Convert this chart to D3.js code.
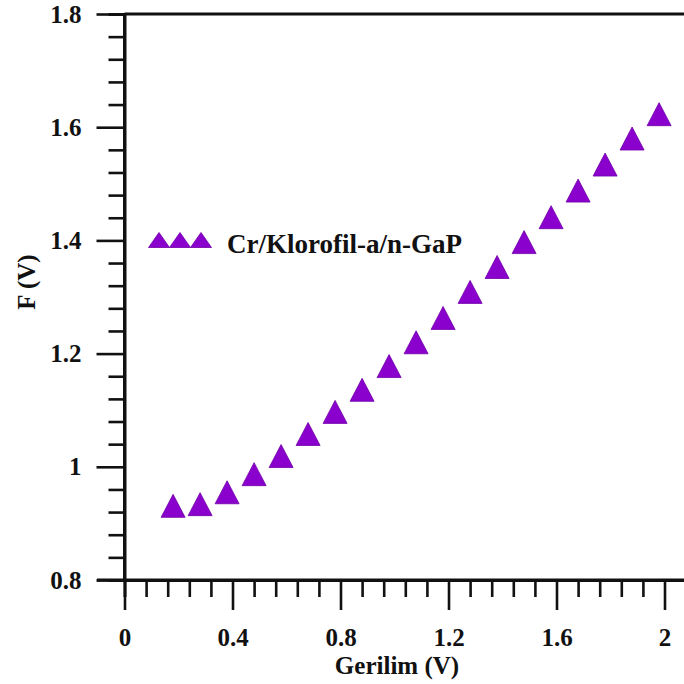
<!DOCTYPE html>
<meta charset="utf-8">
<head>
<style>
  body { margin: 0; background: #fff; }
</style>
</head>
<script src="https://d3js.org/d3.v7.min.js"></script>
<body>
<div id="my_dataviz"></div>
<script>
// data
var voltage = [0.18, 0.28, 0.38, 0.48, 0.58, 0.68, 0.78, 0.88, 0.98, 1.08,
               1.18, 1.28, 1.38, 1.48, 1.58, 1.68, 1.78, 1.88, 1.98];
var fValues = [0.931, 0.934, 0.955, 0.987, 1.019, 1.058, 1.097, 1.136, 1.178, 1.220,
               1.263, 1.309, 1.353, 1.397, 1.441, 1.488, 1.534, 1.580, 1.623];
var xMajorTicks = [0, 0.4, 0.8, 1.2, 1.6, 2];
var xTickLabels = ["0", "0.4", "0.8", "1.2", "1.6", "2"];
var yMajorTicks = [0.8, 1.0, 1.2, 1.4, 1.6, 1.8];
var yTickLabels = ["0.8", "1", "1.2", "1.4", "1.6", "1.8"];
var seriesName = "Cr/Klorofil-a/n-GaP";
var xTitle = "Gerilim (V)";
var yTitle = "F (V)";

var W = 684, H = 684;
var purple = "#8a00cc", purpleEdge = "#7000a8";
var serifFont = "'Liberation Serif', 'Times New Roman', 'DejaVu Serif', serif";

var svg = d3.select("#my_dataviz").append("svg")
    .attr("width", W).attr("height", H);
svg.append("rect").attr("width", W).attr("height", H).attr("fill", "#fff");

// scales
var x = d3.scaleLinear().domain([0, 2.08]).range([124.5, 124.5 + 2.08 * 270]);
var y = d3.scaleLinear().domain([0.8, 1.8]).range([580, 14]);

// minor ticks
var xMinor = d3.range(0, 27).filter(function(i){ return i % 5 != 0; }).map(function(i){ return i * 0.08; });
var yMinor = d3.range(0, 26).filter(function(i){ return i % 5 != 0; }).map(function(i){ return 0.8 + i * 0.04; });

function styleAxis(g) {
  g.attr("font-family", serifFont).attr("font-size", 25).attr("font-weight", "bold");
  g.select(".domain").attr("stroke", "#111").attr("stroke-width", 3);
  g.selectAll(".tick line").attr("stroke", "#111").attr("stroke-width", 2.6);
  g.selectAll(".tick text").attr("fill", "#111");
}

// x axis
var gxMinor = svg.append("g").attr("transform", "translate(0," + y(0.8) + ")")
    .call(d3.axisBottom(x).tickValues(xMinor).tickSize(17).tickFormat(""));
styleAxis(gxMinor);
var gx = svg.append("g").attr("transform", "translate(0," + y(0.8) + ")")
    .call(d3.axisBottom(x).tickValues(xMajorTicks).tickSize(30).tickPadding(18)
      .tickFormat(function(d, i){ return xTickLabels[i]; }));
styleAxis(gx);
gx.select(".domain").attr("d", "M97,0H" + W);

// y axis
var gyMinor = svg.append("g").attr("transform", "translate(" + x(0) + ",0)")
    .call(d3.axisLeft(y).tickValues(yMinor).tickSize(16).tickFormat(""));
styleAxis(gyMinor);
var gy = svg.append("g").attr("transform", "translate(" + x(0) + ",0)")
    .call(d3.axisLeft(y).tickValues(yMajorTicks).tickSize(28).tickPadding(15)
      .tickFormat(function(d, i){ return yTickLabels[i]; }));
styleAxis(gy);
gy.select(".domain").attr("d", "M0," + y(0.8) + "V" + y(1.8));

// top frame line
svg.append("line")
    .attr("x1", x(0)).attr("x2", W)
    .attr("y1", y(1.8)).attr("y2", y(1.8))
    .attr("stroke", "#111").attr("stroke-width", 3);

// points
var tri = "M0,-11.5L12,11.5L-12,11.5Z";
svg.append("g").selectAll("path")
  .data(voltage)
  .enter().append("path")
    .attr("d", tri)
    .attr("transform", function(d, i){ return "translate(" + x(d) + "," + y(fValues[i]) + ")"; })
    .attr("fill", purple)
    .attr("stroke", purpleEdge)
    .attr("stroke-width", 0.8);

// legend
var leg = svg.append("g").attr("transform", "translate(159,240)");
[0, 21, 42].forEach(function(dx){
  leg.append("path")
    .attr("d", "M0,-7.5L10.5,7.5L-10.5,7.5Z")
    .attr("transform", "translate(" + dx + ",0)")
    .attr("fill", purple).attr("stroke", purpleEdge).attr("stroke-width", 0.8);
});
svg.append("text")
    .attr("x", 227).attr("y", 253)
    .attr("font-family", serifFont).attr("font-weight", "bold").attr("font-size", 27)
    .attr("fill", "#111")
    .text(seriesName);

// axis titles
svg.append("text")
    .attr("x", 397).attr("y", 674)
    .attr("text-anchor", "middle")
    .attr("font-family", serifFont).attr("font-weight", "bold").attr("font-size", 25)
    .attr("fill", "#111")
    .text(xTitle);

svg.append("text")
    .attr("transform", "translate(35,282) rotate(-90)")
    .attr("text-anchor", "middle")
    .attr("font-family", serifFont).attr("font-weight", "bold").attr("font-size", 25)
    .attr("fill", "#111")
    .text(yTitle);
</script>
</body>
